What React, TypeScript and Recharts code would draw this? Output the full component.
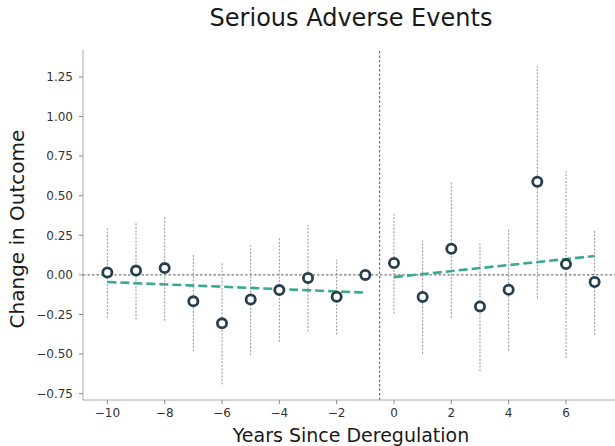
import React from "react";
import {
  ComposedChart,
  Scatter,
  Line,
  XAxis,
  YAxis,
  ErrorBar,
  ReferenceLine,
} from "recharts";

// Event-study estimates by year relative to deregulation
const years = [-10, -9, -8, -7, -6, -5, -4, -3, -2, -1, 0, 1, 2, 3, 4, 5, 6, 7];
const estimates = [
  0.015, 0.027, 0.043, -0.167, -0.306, -0.155, -0.096, -0.02, -0.138, 0.0,
  0.075, -0.14, 0.165, -0.199, -0.094, 0.588, 0.068, -0.045,
];
const lowerCI = [
  -0.27, -0.283, -0.29, -0.483, -0.691, -0.508, -0.422, -0.357, -0.376, 0.0,
  -0.245, -0.498, -0.27, -0.609, -0.477, -0.148, -0.525, -0.376,
];
const upperCI = [
  0.293, 0.333, 0.371, 0.134, 0.081, 0.186, 0.235, 0.315, 0.096, 0.0,
  0.39, 0.218, 0.586, 0.207, 0.287, 1.318, 0.653, 0.281,
];

// Linear fits before and after deregulation
const preTrendX = [-10, -1];
const preTrendY = [-0.045, -0.112];
const postTrendX = [0, 7];
const postTrendY = [-0.014, 0.119];

const xTicks = [-10, -8, -6, -4, -2, 0, 2, 4, 6];
const yTicks = [-0.75, -0.5, -0.25, 0, 0.25, 0.5, 0.75, 1.0, 1.25];

const points = years.map((x, i) => ({
  x,
  y: estimates[i],
  err: [estimates[i] - lowerCI[i], upperCI[i] - estimates[i]],
}));
const preTrend = preTrendX.map((x, i) => ({ x, fit: preTrendY[i] }));
const postTrend = postTrendX.map((x, i) => ({ x, fit: postTrendY[i] }));

const FONT = "'DejaVu Sans', sans-serif";
const minus = (s: string) => s.replace("-", "\u2212");

const RingMarker = (props: any) => {
  const { cx, cy } = props;
  if (cx == null || cy == null) return null;
  return (
    <circle cx={cx} cy={cy} r={4.6} fill="#ffffff" stroke="#263f4e" strokeWidth={2.8} />
  );
};

export default function App() {
  return (
    <div
      style={{
        position: "absolute",
        left: 0,
        top: 0,
        width: 615,
        height: 446,
        overflow: "hidden",
        background: "#ffffff",
        fontFamily: FONT,
      }}
    >
      <div
        style={{
          position: "absolute",
          left: 83,
          width: 536,
          top: 6,
          textAlign: "center",
          fontSize: 24,
          lineHeight: "24px",
          color: "#1a1a1a",
          whiteSpace: "nowrap",
        }}
      >
        Serious Adverse Events
      </div>
      <div
        style={{
          position: "absolute",
          left: 83,
          width: 536,
          top: 426,
          textAlign: "center",
          fontSize: 19,
          lineHeight: "19px",
          color: "#1a1a1a",
          whiteSpace: "nowrap",
        }}
      >
        Years Since Deregulation
      </div>
      <div
        style={{
          position: "absolute",
          left: 17 - 150,
          top: 229 - 11,
          width: 300,
          textAlign: "center",
          fontSize: 20,
          lineHeight: "22px",
          color: "#1a1a1a",
          whiteSpace: "nowrap",
          transform: "rotate(-90deg)",
        }}
      >
        Change in Outcome
      </div>
      <div style={{ position: "absolute", left: 0, top: 0 }}>
        <ComposedChart
          width={625}
          height={446}
          margin={{ top: 50, right: 6, bottom: 16, left: 23 }}
        >
          <XAxis
            dataKey="x"
            type="number"
            domain={[-10.85, 7.85]}
            allowDataOverflow
            ticks={xTicks}
            tickFormatter={(v: number) => minus(String(v))}
            tick={{ fill: "#333333", fontSize: 12, fontFamily: FONT }}
            tickSize={4}
            tickMargin={4}
            height={30}
            stroke="#a8a8a8"
            tickLine={{ stroke: "#888888" }}
          />
          <YAxis
            type="number"
            domain={[-0.79, 1.42]}
            allowDataOverflow
            ticks={yTicks}
            tickFormatter={(v: number) => minus(v.toFixed(2))}
            tick={{ fill: "#333333", fontSize: 12, fontFamily: FONT }}
            tickSize={4}
            tickMargin={6}
            width={60}
            stroke="#a8a8a8"
            tickLine={{ stroke: "#888888" }}
          />
          <ReferenceLine y={0} stroke="#555555" strokeWidth={1} strokeDasharray="2.5 2" />
          <ReferenceLine x={-0.5} stroke="#555555" strokeWidth={1} strokeDasharray="2.5 2" />
          <Line
            data={preTrend}
            dataKey="fit"
            type="linear"
            stroke="#3aa895"
            strokeWidth={2.6}
            strokeDasharray="9 4"
            dot={false}
            activeDot={false}
            isAnimationActive={false}
          />
          <Line
            data={postTrend}
            dataKey="fit"
            type="linear"
            stroke="#3aa895"
            strokeWidth={2.6}
            strokeDasharray="9 4"
            dot={false}
            activeDot={false}
            isAnimationActive={false}
          />
          <Scatter data={points} dataKey="y" shape={RingMarker} isAnimationActive={false}>
            <ErrorBar
              dataKey="err"
              direction="y"
              width={0}
              stroke="#888888"
              strokeWidth={0.9}
              strokeDasharray="2 1.5"
              isAnimationActive={false}
            />
          </Scatter>
        </ComposedChart>
      </div>
    </div>
  );
}
